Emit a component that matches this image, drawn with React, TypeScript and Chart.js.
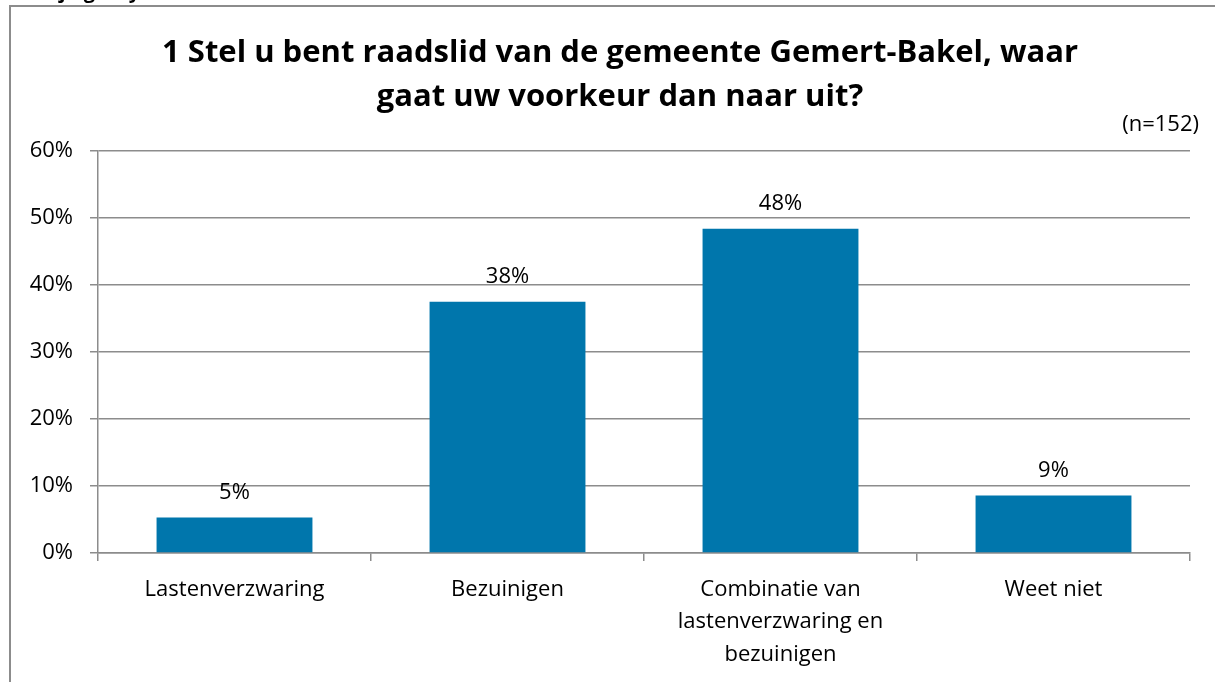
import React, { useEffect, useRef } from "react";
import { Chart, registerables } from "chart.js";

Chart.register(...registerables);

const titleLines = ["1 Stel u bent raadslid van de gemeente Gemert-Bakel, waar", "gaat uw voorkeur dan naar uit?"];
const sampleNote = "(n=152)";
const categories: (string | string[])[] = [
  "Lastenverzwaring",
  "Bezuinigen",
  ["Combinatie van", "lastenverzwaring en", "bezuinigen"],
  "Weet niet",
];
const values = [5.3, 37.5, 48.4, 8.6];
const yTicks = [0, 10, 20, 30, 40, 50, 60];

const FONT = "'Open Sans', 'Noto Sans', sans-serif";
const BAR_COLOR = "#0076AC";
const GRID = "#8c8c8c";

export default function App() {
  const ref = useRef<HTMLCanvasElement | null>(null);
  useEffect(() => {
    if (!ref.current) return;
    const decor = {
      id: "decor",
      beforeDraw(chart: any) {
        const ctx = chart.ctx;
        ctx.save();
        ctx.fillStyle = "#fff";
        ctx.fillRect(0, 0, chart.width, chart.height);
        // partially cut text above frame
        ctx.fillStyle = "#000";
        ctx.font = `bold 20px ${FONT}`;
        ctx.textBaseline = "alphabetic";
        ctx.textAlign = "left";
        ctx.fillText("Bijlage 1 y", 40, -2);
        // frame
        ctx.strokeStyle = GRID;
        ctx.lineWidth = 2;
        ctx.beginPath();
        ctx.moveTo(10, chart.height + 2);
        ctx.lineTo(10, 6);
        ctx.lineTo(chart.width + 2, 6);
        ctx.stroke();
        ctx.restore();
      },
      afterDraw(chart: any) {
        const ctx = chart.ctx;
        ctx.save();
        ctx.fillStyle = "#000";
        ctx.textAlign = "center";
        ctx.textBaseline = "middle";
        ctx.font = `bold 31px ${FONT}`;
        titleLines.forEach((t, i) => ctx.fillText(t, 620, 53 + i * 44));
        ctx.font = `22px ${FONT}`;
        ctx.textAlign = "right";
        ctx.fillText(sampleNote, 1199, 125);
        // data labels
        ctx.textAlign = "center";
        const meta = chart.getDatasetMeta(0);
        meta.data.forEach((bar: any, i: number) => {
          ctx.fillText(Math.round(values[i]) + "%", bar.x, bar.y - 25);
        });
        ctx.restore();
      },
    };
    const chart = new Chart(ref.current, {
      type: "bar",
      data: {
        labels: categories,
        datasets: [
          {
            data: values,
            backgroundColor: BAR_COLOR,
            borderWidth: 0,
            barPercentage: 0.571,
            categoryPercentage: 1,
          },
        ],
      },
      options: {
        animation: false,
        responsive: false,
        devicePixelRatio: 1,
        layout: { padding: { top: 151, right: 25, left: 0, bottom: 0 } },
        plugins: { legend: { display: false }, title: { display: false }, tooltip: { enabled: false } },
        scales: {
          x: {
            offset: true,
            grid: {
              offset: true,
              drawOnChartArea: false,
              drawTicks: true,
              tickLength: 8,
              color: GRID,
              lineWidth: 1.5,
            },
            border: { display: true, color: GRID, width: 1.5 },
            ticks: {
              color: "#000",
              font: { family: FONT, size: 22, lineHeight: 1.48 },
              padding: 12,
              maxRotation: 0,
              autoSkip: false,
            },
            afterFit(scale: any) {
              scale.height = 129;
            },
          },
          y: {
            min: 0,
            max: 60,
            afterBuildTicks(scale: any) {
              scale.ticks = yTicks.map((v) => ({ value: v }));
            },
            grid: { color: GRID, lineWidth: 1.5, tickLength: 8, drawTicks: true },
            border: { display: true, color: GRID, width: 1.5 },
            ticks: {
              color: "#000",
              font: { family: FONT, size: 22 },
              padding: 17,
              callback: (v: any) => v + "%",
            },
            afterFit(scale: any) {
              scale.width = 98;
            },
          },
        },
      },
      plugins: [decor],
    } as any);
    return () => chart.destroy();
  }, []);
  return (
    <div style={{ position: "fixed", left: 0, top: 0, width: 1215, height: 682 }}>
      <canvas ref={ref} width={1215} height={682} style={{ width: 1215, height: 682, display: "block" }} />
    </div>
  );
}
